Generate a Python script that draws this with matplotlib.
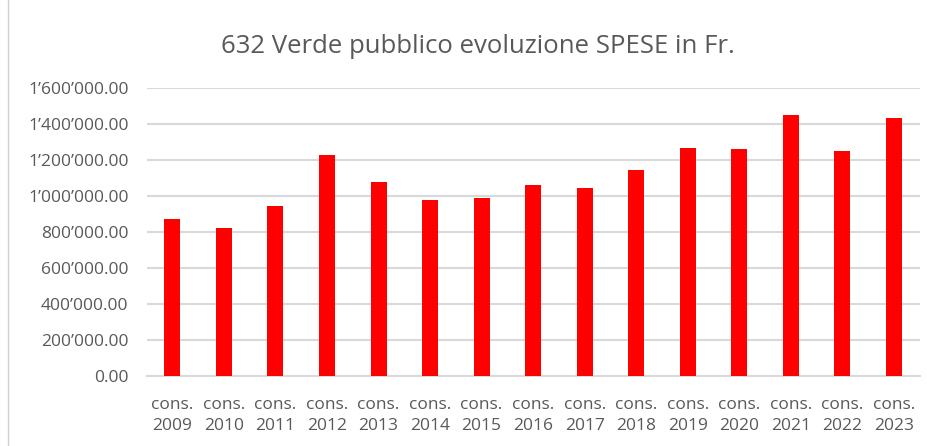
import matplotlib
matplotlib.use("Agg")
import matplotlib.pyplot as plt
from matplotlib.ticker import FuncFormatter, MultipleLocator
from matplotlib.patches import Rectangle

years = ["2009", "2010", "2011", "2012", "2013", "2014", "2015", "2016",
         "2017", "2018", "2019", "2020", "2021", "2022", "2023"]
labels = ["cons.\n" + y for y in years]
values = [875000, 823000, 946000, 1229000, 1079000, 982000, 992000, 1064000,
          1049000, 1144000, 1271000, 1262000, 1453000, 1253000, 1436000]

plt.rcParams['font.family'] = ['Open Sans', 'DejaVu Sans']

fig = plt.figure(figsize=(9.28, 4.46), dpi=100)
ax = fig.add_axes([0.158, 0.156, 0.833, 0.646])

x = range(len(values))
ax.bar(x, values, width=0.31, color='#ff0000', zorder=3)

ax.set_ylim(0, 1600000)
ax.set_xlim(-0.5, len(values) - 0.5)
ax.yaxis.set_major_locator(MultipleLocator(200000))

def fmt(v, pos):
    s = f"{v:,.2f}".replace(",", "\u2019")
    return s

ax.yaxis.set_major_formatter(FuncFormatter(fmt))
ax.set_xticks(list(x))
ax.set_xticklabels(labels, linespacing=1.4)
ax.grid(axis='y', color='#d9d9d9', linewidth=1.5, zorder=0)
for s in ['top', 'right', 'left']:
    ax.spines[s].set_visible(False)
ax.spines['bottom'].set_color('#d9d9d9')
ax.spines['bottom'].set_linewidth(1.5)
ax.tick_params(axis='both', length=0, colors='#595959', labelsize=12.5)
ax.tick_params(axis='y', pad=13)
ax.tick_params(axis='x', pad=15)

fig.text(0.515, 0.895, "632 Verde pubblico evoluzione SPESE in Fr.",
         ha='center', va='center', fontsize=18.5, color='#595959')

fig.patches.append(Rectangle((0.009, -0.01), 1.0, 1.2, transform=fig.transFigure,
                             fill=False, edgecolor='#d0d0d0', linewidth=1))

fig.savefig("out.png", dpi=100)
